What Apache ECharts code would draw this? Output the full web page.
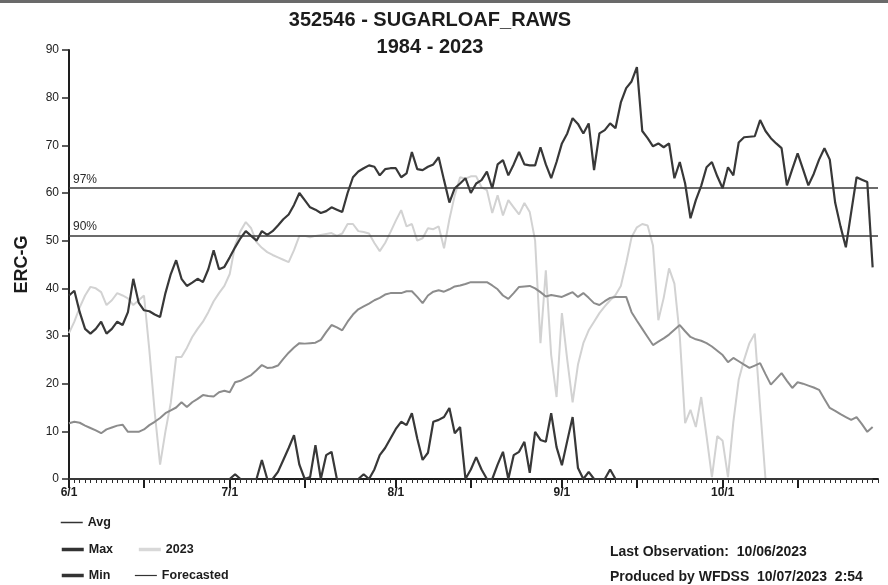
<!DOCTYPE html>
<html>
<head>
<meta charset="utf-8">
<script src="https://cdn.jsdelivr.net/npm/echarts@6/dist/echarts.min.js"></script>
<style>
html,body{margin:0;padding:0;background:#fff;}
#chart{width:888px;height:585px;}
</style>
</head>
<body>
<div id="chart"></div>
<script>
// ---- data ----
var monthLengths = [30, 31, 31, 30, 30]; // Jun..Oct (Oct shown to 10/30)
var monthNumbers = [6, 7, 8, 9, 10];
var categories = [];
for (var m = 0; m < monthNumbers.length; m++) {
  for (var d = 1; d <= monthLengths[m]; d++) categories.push(monthNumbers[m] + '/' + d);
}
var yTicks = [0, 10, 20, 30, 40, 50, 60, 70, 80, 90];
var pct97 = 61;
var pct90 = 51;

var maxVals = [38.5,39.5,35,31.5,30.5,31.5,33,30.5,31.5,33,
  32.3,35,42,37,35.4,35.2,34.5,34,39,43,
  45.9,42,40.5,41.2,42,41.3,44,48,44,44.5,
  46.5,48.6,50.5,52,51,50,52,51.2,52,53.2,
  54.5,55.5,57.5,60,58.5,57,56.5,55.8,56.2,57,
  56.5,56,60,63.3,64.5,65.2,65.8,65.5,63.7,65,
  65.2,65.2,63.3,64.1,68.6,65,64.8,65.5,66,67.5,
  62.7,58,61,62,63.1,60,62,62.7,64.5,61,
  66,66.9,63.7,66,68.6,66,65.8,65.8,69.6,66,
  63.1,66.5,70.4,72.5,75.7,74.5,72.5,74.6,64.8,72.5,
  73.2,74.6,73.6,79,82,83.4,86.4,73,71.5,69.8,
  70.4,69.6,70.4,63.1,66.5,62,54.7,58.5,61.5,65.4,
  66.5,63.5,61,65.4,63.7,70.6,71.7,71.8,71.9,75.3,
  73,71.5,70.4,69.4,61.6,65,68.3,65,61.6,64,
  67,69.4,67,58,53,48.6,56,63.3,62.8,62.3,
  44.4,null];

var minVals = [0,0,0,0,0,0,0,0,0,0,
  0,0,0,0,0,0,0,0,0,0,
  0,0,0,0,0,0,0,0,0,0,
  0,1,0,0,0,0,4,0,0,1.5,
  4,6.5,9.2,3,0,0.4,7.1,0,5,5.7,
  0,0,0,0,0,1,0,2,5,6.5,
  8.5,10.5,12,11.3,13.8,8.5,4,5.5,12,12.4,
  13,14.9,9.6,10.9,0,2,4.6,2,0,0,
  3,5.7,0,5,5.7,7.8,1.3,9.9,8.2,7.8,
  13.8,6.7,2.9,8,13,2.3,0,1.5,0,0,
  0,2,0,0,0,0,0,0,0,0,
  0,0,0,0,0,0,0,0,0,0,
  0,0,0,0,0,0,0,0,0,0,
  0,0,0,0,0,0,0,0,0,0,
  0,0,0,0,0,0,0,0,0,0,
  0,null];

var avgVals = [11.7,12,11.8,11.2,10.7,10.2,9.6,10.4,10.8,11.2,
  11.4,9.9,9.9,9.9,10.4,11.3,12,12.8,13.8,14.4,
  15,16.1,15.1,16.1,16.8,17.6,17.4,17.3,18.2,18.5,
  18.2,20.3,20.6,21.2,21.8,22.8,23.9,23.3,23.4,23.8,
  25.2,26.5,27.6,28.5,28.4,28.5,28.6,29.2,30.8,32.3,
  31.8,31.2,33,34.5,35.6,36.2,36.8,37.5,38,38.7,
  39,39,39,39.4,39.4,38.2,36.9,38.5,39.3,39.6,
  39.3,39.8,40.4,40.6,40.9,41.3,41.3,41.3,41.3,40.6,
  39.8,38.5,37.8,39,40.3,40.4,40.5,40,39.2,38.3,
  38.6,38.4,38.2,38.7,39.2,38.2,39,38,36.9,36.5,
  37.3,38,38.2,38.2,38.2,35,33.2,31.5,29.8,28.1,
  28.8,29.5,30.3,31.3,32.3,31,29.8,29.3,29,28.5,
  27.8,26.9,26,24.5,25.4,24.7,24,23.3,23.8,24.3,
  22,19.8,21,22.2,20.6,19.1,20.3,20,19.6,19.2,
  18.7,16.8,14.9,14.3,13.6,13,12.4,13,11.5,9.9,
  10.9,null];

var y2023Vals = [30.6,33,36,38.5,40.3,40,39.2,36.5,37.5,39,
  38.5,37.9,36.5,37.5,38.5,27,14,3,10,16,
  25.6,25.6,27.5,29.8,31.5,33,35,37.3,39,40.5,
  43,49,52,53.9,52.6,49.7,48.5,47.6,47,46.5,
  46,45.5,48,51,51,50.7,51,51.2,51.4,51.6,
  51,51.5,53.5,53.5,52,51.8,51.5,49.5,47.8,49.5,
  51.8,54.2,56.4,53,53.5,50,50.5,52.6,52.4,53,
  48.4,54.5,59.5,63.3,63,63.5,63.5,61.2,60.6,55.8,
  59.5,55.3,58.5,57,55.5,57.9,56,50,28.5,43.8,
  26,17.2,34.8,25,16.1,24,28.5,31.2,33,34.8,
  36.2,37.5,38.6,40.5,45.3,50.7,52.8,53.5,53.2,49,
  33.3,38,44.2,41,30,11.7,14.5,10.9,17.2,9,
  0.4,9,8,0.4,12,20.8,25,28.5,30.5,15,
  0];

var forecastVals = [];

// ---- chart ----
var FONT = '"Liberation Sans Narrow", "Arial Narrow", "Liberation Sans", Arial, sans-serif';
var chart = echarts.init(document.getElementById('chart'), null, {renderer: 'canvas'});

function dayOf(label) { return parseInt(String(label).split('/')[1], 10); }

var legendText = {fontFamily: FONT, fontWeight: 'bold', fontSize: 12.5, color: '#1c1c1c'};
var legendBase = {left: 60, itemWidth: 22, itemHeight: 12, itemGap: 24, padding: 0,
  itemStyle: {opacity: 0}, textStyle: legendText};

var option = {
  backgroundColor: '#ffffff',
  animation: false,
  title: [
    {text: '352546 - SUGARLOAF_RAWS', left: 425, top: 5, textAlign: 'center',
     textStyle: {fontFamily: FONT, fontWeight: 'bold', fontSize: 20, color: '#1c1c1c'}},
    {text: '1984 - 2023', left: 425, top: 32, textAlign: 'center',
     textStyle: {fontFamily: FONT, fontWeight: 'bold', fontSize: 20, color: '#1c1c1c'}},
    {text: 'Last Observation:  10/06/2023', left: 610, top: 545, padding: 0,
     textStyle: {fontFamily: FONT, fontWeight: 'bold', fontSize: 14, color: '#1c1c1c'}},
    {text: 'Produced by WFDSS  10/07/2023  2:54', left: 610, top: 570, padding: 0,
     textStyle: {fontFamily: FONT, fontWeight: 'bold', fontSize: 14, color: '#1c1c1c'}}
  ],
  graphic: [
    {type: 'rect', shape: {x: 0, y: 0, width: 888, height: 3}, style: {fill: '#6a6a6a'}, silent: true}
  ],
  legend: [
    Object.assign({}, legendBase, {top: 516,
      data: [{name: 'Avg', lineStyle: {color: '#333', width: 1.5}}]}),
    Object.assign({}, legendBase, {top: 543,
      data: [{name: 'Max', lineStyle: {color: '#333', width: 3.5}},
             {name: '2023', lineStyle: {color: '#d8d8d8', width: 3.5}}]}),
    Object.assign({}, legendBase, {top: 569,
      data: [{name: 'Min', lineStyle: {color: '#333', width: 3.5}},
             {name: 'Forecasted', lineStyle: {color: '#333', width: 1.2}}]})
  ],
  grid: {left: 69, right: 10, top: 50, bottom: 106, containLabel: false},
  xAxis: [
    {type: 'category', data: categories, boundaryGap: false, position: 'bottom',
     axisLine: {show: true, lineStyle: {color: '#1e1e1e', width: 2}},
     axisTick: {show: true, interval: 0, length: 4, lineStyle: {color: '#2a2a2a', width: 1}},
     axisLabel: {show: true, margin: 8, fontFamily: FONT, fontWeight: 'bold', fontSize: 12, color: '#1c1c1c',
       interval: function (i, v) { return dayOf(v) === 1; }},
     splitLine: {show: false}},
    {type: 'category', data: categories, boundaryGap: false, position: 'bottom', offset: 0,
     axisLine: {show: false},
     axisTick: {show: true, length: 9, lineStyle: {color: '#1e1e1e', width: 2},
       interval: function (i, v) { var dd = dayOf(v); return dd === 1 || dd === 15; }},
     axisLabel: {show: false},
     splitLine: {show: false}}
  ],
  yAxis: {
    type: 'value', min: 0, max: 90, interval: 10,
    name: 'ERC-G', nameLocation: 'middle', nameGap: 38, nameRotate: 90,
    nameTextStyle: {fontFamily: FONT, fontWeight: 'bold', fontSize: 18, color: '#1c1c1c'},
    axisLine: {show: true, lineStyle: {color: '#1e1e1e', width: 2}},
    axisTick: {show: true, length: 7, lineStyle: {color: '#2a2a2a', width: 1.5}},
    axisLabel: {margin: 10, fontFamily: FONT, fontSize: 12, color: '#222',
      formatter: function (v) { return yTicks.indexOf(v) >= 0 ? String(v) : ''; }},
    splitLine: {show: false}
  },
  series: [
    {name: 'Avg', type: 'line', data: avgVals, symbol: 'none', z: 3,
     lineStyle: {color: '#8c8c8c', width: 2}, itemStyle: {color: '#8c8c8c'}},
    {name: '2023', type: 'line', data: y2023Vals, symbol: 'none', z: 2,
     lineStyle: {color: '#d2d2d2', width: 2}, itemStyle: {color: '#d2d2d2'}},
    {name: 'Max', type: 'line', data: maxVals, symbol: 'none', z: 4,
     lineStyle: {color: '#383838', width: 2.2}, itemStyle: {color: '#383838'},
     markLine: {silent: true, symbol: 'none',
       lineStyle: {color: '#3a3a3a', width: 1.6, type: 'solid'},
       label: {show: true, position: 'insideStartTop', distance: [4, 3], fontFamily: FONT, fontSize: 12, color: '#2a2a2a',
         formatter: function (p) { return p.value === pct97 ? '97%' : '90%'; }},
       data: [{yAxis: pct97}, {yAxis: pct90}]}},
    {name: 'Min', type: 'line', data: minVals, symbol: 'none', z: 4,
     lineStyle: {color: '#383838', width: 2.2}, itemStyle: {color: '#383838'}},
    {name: 'Forecasted', type: 'line', data: forecastVals, symbol: 'none', z: 5,
     lineStyle: {color: '#333333', width: 1}, itemStyle: {color: '#333333'}}
  ]
};
chart.setOption(option);
</script>
</body>
</html>
